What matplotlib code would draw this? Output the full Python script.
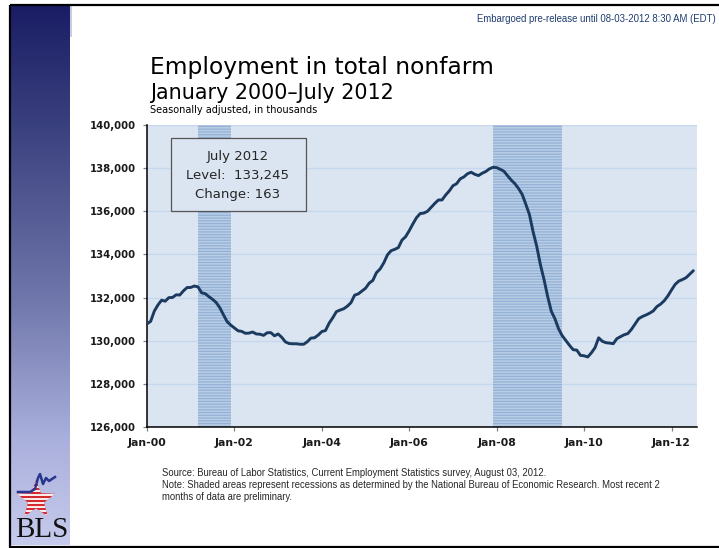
import numpy as np
import matplotlib
matplotlib.use("Agg")
import matplotlib.pyplot as plt
from matplotlib.patches import Rectangle, Polygon
from matplotlib.ticker import FuncFormatter

# ---------------- data (thousands, seasonally adjusted) ----------------
start_year = 2000
nonfarm = [
    # 2000
    130781, 130898, 131370, 131656, 131879, 131832, 131998, 132005, 132128, 132117, 132312, 132465,
    # 2001
    132469, 132535, 132497, 132219, 132182, 132041, 131920, 131770, 131526, 131198, 130883, 130723,
    # 2002
    130591, 130459, 130433, 130344, 130353, 130404, 130313, 130302, 130248, 130370, 130375, 130227,
    # 2003
    130312, 130157, 129944, 129871, 129858, 129858, 129838, 129834, 129951, 130121, 130137, 130262,
    # 2004
    130424, 130473, 130813, 131063, 131349, 131420, 131480, 131600, 131763, 132111, 132170, 132299,
    # 2005
    132432, 132669, 132795, 133156, 133326, 133606, 133975, 134170, 134236, 134315, 134663, 134822,
    # 2006
    135102, 135417, 135705, 135894, 135917, 135999, 136180, 136363, 136523, 136527, 136756, 136947,
    # 2007
    137185, 137279, 137504, 137594, 137741, 137810, 137714, 137655, 137762, 137843, 137966, 138038,
    # 2008
    138023, 137947, 137855, 137645, 137446, 137280, 137057, 136785, 136327, 135847, 135050, 134375,
    # 2009
    133531, 132835, 132047, 131365, 131014, 130549, 130230, 130010, 129785, 129583, 129563, 129321,
    # 2010
    129302, 129246, 129438, 129677, 130135, 129974, 129908, 129890, 129862, 130095, 130188, 130275,
    # 2011
    130330, 130526, 130772, 131023, 131123, 131193, 131278, 131382, 131584, 131696, 131853, 132076,
    # 2012
    132351, 132610, 132764, 132835, 132922, 133082, 133245,
]
recession_start = [(2001, 3), (2007, 12)]
recession_end = [(2001, 11), (2009, 6)]
tick_years = [2000, 2002, 2004, 2006, 2008, 2010, 2012]
tick_labels = ["Jan-00", "Jan-02", "Jan-04", "Jan-06", "Jan-08", "Jan-10", "Jan-12"]
y_ticks = [126000, 128000, 130000, 132000, 134000, 136000, 138000, 140000]

title = "Employment in total nonfarm"
subtitle = "January 2000\u2013July 2012"
units = "Seasonally adjusted, in thousands"
embargo = "Embargoed pre-release until 08-03-2012 8:30 AM (EDT)"
box_lines = ["July 2012", "Level:  133,245", "Change: 163"]
source_lines = [
    "Source: Bureau of Labor Statistics, Current Employment Statistics survey, August 03, 2012.",
    "Note: Shaded areas represent recessions as determined by the National Bureau of Economic Research. Most recent 2",
    "months of data are preliminary.",
]

def midx(y, m):
    return (y - start_year) * 12 + (m - 1)

# ---------------- figure ----------------
plt.rcParams["hatch.linewidth"] = 0.9
W, H = 719, 548
fig = plt.figure(figsize=(W / 100, H / 100), dpi=100)
fig.patch.set_facecolor("white")

bg = fig.add_axes([0, 0, 1, 1], zorder=0)
bg.set_xlim(0, W)
bg.set_ylim(H, 0)
bg.axis("off")

# left gradient bar
stops_y = np.array([6, 140, 300, 440, 545], dtype=float)
stops_c = np.array([[0x1a, 0x1d, 0x64], [0x3e, 0x45, 0x82], [0x70, 0x77, 0xab],
                    [0xaa, 0xb0, 0xdc], [0xc6, 0xca, 0xec]], dtype=float) / 255
ys = np.linspace(6, 545, 300)
grad = np.stack([np.interp(ys, stops_y, stops_c[:, k]) for k in range(3)], axis=-1)[:, None, :]
bg.imshow(grad, extent=(11, 70, 545, 6), aspect="auto", origin="upper", zorder=1)
bg.add_patch(Rectangle((70, 6), 1.8, 31, facecolor="#c9cde2", edgecolor="none", zorder=1))

# border
bg.add_patch(Rectangle((9.7, 5), 730, 541.5, facecolor="none", edgecolor="black",
                       linewidth=1.6, zorder=5, clip_on=False))

# BLS logo: star with stripes + line + text
cx, cy, R = 36, 500, 20
pts = []
for k in range(10):
    ang = np.pi / 2 + k * np.pi / 5
    r = R if k % 2 == 0 else R * 0.42
    pts.append((cx + r * np.cos(ang), cy - r * np.sin(ang)))
star = Polygon(pts, closed=True, facecolor="#d42a2f", edgecolor="none", zorder=3)
bg.add_patch(star)
for yy in np.arange(cy - R, cy + R, 4.0):
    ln, = bg.plot([cx - R, cx + R], [yy + 2.5, yy + 2.5], color="white", lw=1.3, zorder=4)
    ln.set_clip_path(star)
bg.plot([18, 30, 35, 38, 40, 43, 46, 49, 52, 55], [492, 492, 489, 478, 474, 484, 478, 481, 479, 477],
        color="#27358c", lw=1.8, zorder=5, solid_joinstyle="round")
bg.text(42, 537, "BLS", family="Liberation Serif", fontsize=21, ha="center", va="baseline",
        color="#111111", zorder=5)

# header texts
bg.text(716, 22, embargo, family="Liberation Sans", fontsize=6.9, color="#1f3c70",
        va="baseline", ha="right")
bg.text(150, 74, title, family="DejaVu Sans", fontsize=16.8, color="black", va="baseline")
bg.text(150, 99, subtitle, family="DejaVu Sans", fontsize=14.9, color="black", va="baseline")
bg.text(150, 113, units, family="DejaVu Sans", fontsize=7.0, color="black", va="baseline")
for i, s in enumerate(source_lines):
    bg.text(162, 476 + 12 * i, s, family="Liberation Sans", fontsize=6.85, color="#262626", va="baseline")

# ---------------- main axes ----------------
left, right, top, bottom = 147, 697, 125, 427
ax = fig.add_axes([left / W, 1 - bottom / H, (right - left) / W, (bottom - top) / H], zorder=2)
ax.set_facecolor("#dbe5f1")
x = np.arange(len(nonfarm))
ax.set_xlim(0, 151)
ax.set_ylim(126000, 140000)

for (sy, sm), (ey, em) in zip(recession_start, recession_end):
    ax.axvspan(midx(sy, sm), midx(ey, em) + 1, facecolor="#b9cde5", edgecolor="#93b1d7",
               hatch="------", linewidth=0, zorder=1)

ax.plot(x, nonfarm, color="#1b3a5f", lw=2.1, zorder=3, solid_joinstyle="round", solid_capstyle="round")

ax.set_yticks(y_ticks)
ax.yaxis.set_major_formatter(FuncFormatter(lambda v, p: f"{int(v):,}"))
ax.set_xticks([midx(yv, 1) for yv in tick_years])
ax.set_xticklabels(tick_labels)
ax.grid(axis="y", color="#c6d8ee", lw=1.0, zorder=0.5)
ax.set_axisbelow(True)
for s in ["top", "right"]:
    ax.spines[s].set_visible(False)
for s in ["left", "bottom"]:
    ax.spines[s].set_color("black")
    ax.spines[s].set_linewidth(1.1)
ax.tick_params(axis="both", direction="out", color="#808080", length=3.0, width=0.9)
ax.tick_params(axis="y", pad=5)
ax.tick_params(axis="x", pad=5)
for lab in ax.get_yticklabels():
    lab.set_fontfamily("DejaVu Sans")
    lab.set_fontweight("bold")
    lab.set_fontsize(7.3)
    lab.set_color("#1a1a1a")
for lab in ax.get_xticklabels():
    lab.set_fontfamily("DejaVu Sans")
    lab.set_fontweight("bold")
    lab.set_fontsize(7.8)
    lab.set_color("#1a1a1a")

# annotation box
bx0, bx1, by0, by1 = 170.7, 305.7, 138, 211
ax.add_patch(Rectangle(((bx0 - left) / (right - left), (bottom - by1) / (bottom - top)),
                       (bx1 - bx0) / (right - left), (by1 - by0) / (bottom - top),
                       transform=ax.transAxes, facecolor="#dbe5f1", edgecolor="#555555",
                       linewidth=0.9, zorder=4))
for i, s in enumerate(box_lines):
    yy = 157 + 19 * i
    ax.text((238 - left) / (right - left), (bottom - yy) / (bottom - top), s, transform=ax.transAxes,
            ha="center", va="center", family="DejaVu Sans", fontsize=9.5, color="#262626", zorder=5)

fig.savefig("out.png", dpi=100)
